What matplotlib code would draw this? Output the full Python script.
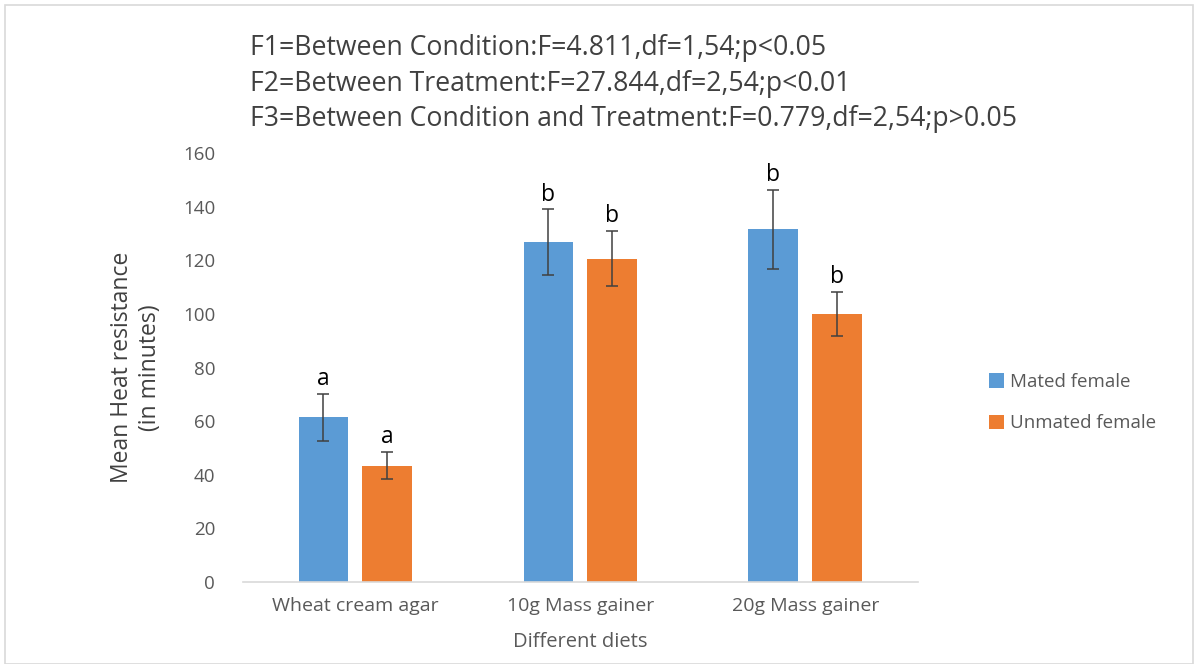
import numpy as np
import matplotlib.pyplot as plt
from matplotlib.patches import Rectangle

diets = ['Wheat cream agar', '10g Mass gainer', '20g Mass gainer']
series = ['Mated female', 'Unmated female']
mated = [61.4, 126.7, 131.5]
mated_err = [8.9, 12.3, 14.7]
unmated = [43.4, 120.6, 100.0]
unmated_err = [5.0, 10.3, 8.3]
mated_letters = ['a', 'b', 'b']
unmated_letters = ['a', 'b', 'b']
stats_lines = [
    'F1=Between Condition:F=4.811,df=1,54;p<0.05',
    'F2=Between Treatment:F=27.844,df=2,54;p<0.01',
    'F3=Between Condition and Treatment:F=0.779,df=2,54;p>0.05',
]

blue = '#5B9BD5'
orange = '#ED7D31'
grey = '#595959'

plt.rcParams['font.family'] = ['Open Sans', 'DejaVu Sans']

fig = plt.figure(figsize=(11.98, 6.64), dpi=100)
ax = fig.add_axes([0.2028, 0.1235, 0.5634, 0.646])

x = np.arange(len(diets))
w = 0.222
off = 0.142
err_kw = dict(ecolor='#404040', elinewidth=1.1, capsize=4, capthick=1.1)
ax.bar(x - off, mated, w, yerr=mated_err, color=blue, label=series[0], error_kw=err_kw)
ax.bar(x + off, unmated, w, yerr=unmated_err, color=orange, label=series[1], error_kw=err_kw)

# significance letters above error bars
for xs, vals, errs, letters in [(x - off, mated, mated_err, mated_letters),
                                 (x + off, unmated, unmated_err, unmated_letters)]:
    for xi, v, e, t in zip(xs, vals, errs, letters):
        ax.annotate(t, (xi, v + e), xytext=(0, 2), textcoords='offset points',
                    ha='center', va='bottom', fontsize=16.5, color='black')

ax.set_xlim(-0.5, 2.5)
ax.set_ylim(0, 160)
ax.set_yticks(range(0, 161, 20))
ax.set_xticks(x)
ax.set_xticklabels(diets)
ax.tick_params(axis='both', length=0, labelsize=13.5, labelcolor=grey)
ax.tick_params(axis='x', labelsize=14)
ax.tick_params(axis='y', pad=20)
ax.tick_params(axis='x', pad=11)
for s in ['top', 'right', 'left']:
    ax.spines[s].set_visible(False)
ax.spines['bottom'].set_color('#D9D9D9')
ax.spines['bottom'].set_linewidth(1.2)

ax.set_ylabel('Mean Heat resistance\n(in minutes)', fontsize=16.5, color='#404040', labelpad=15)
ax.set_xlabel('Different diets', fontsize=14.5, color=grey, labelpad=12)

leg = ax.legend(loc='center left', bbox_to_anchor=(1.08, 0.418), frameon=False,
                fontsize=13.5, handlelength=0.8, handleheight=0.8, handletextpad=0.35,
                labelspacing=1.25)
for t in leg.get_texts():
    t.set_color(grey)

for i, line in enumerate(stats_lines):
    fig.text(250 / 1198, 1 - (48 + 35.5 * i) / 664, line, fontsize=19.2,
             color='#404040', va='center', ha='left')

fig.patches.append(Rectangle((0.004, 0.0), 0.992, 0.992, transform=fig.transFigure,
                             fill=False, edgecolor='#D9D9D9', linewidth=1.2))

fig.savefig('out.png', dpi=100)
